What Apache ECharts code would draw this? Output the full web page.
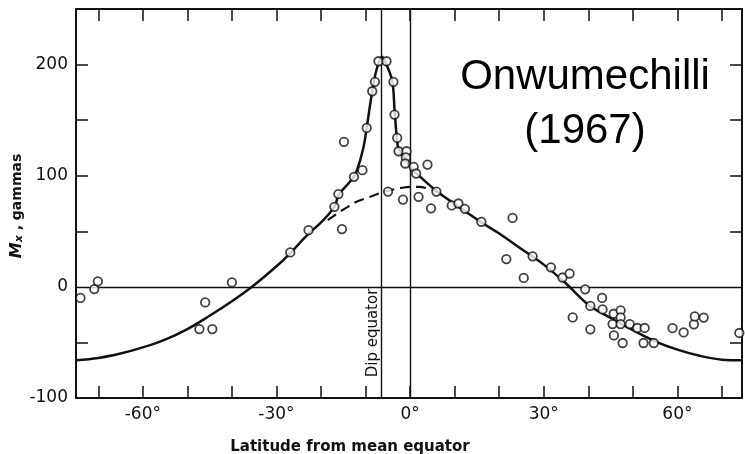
<!DOCTYPE html>
<html>
<head>
<meta charset="utf-8">
<script src="https://cdn.jsdelivr.net/npm/echarts@6/dist/echarts.min.js"></script>
<style>html,body{margin:0;padding:0;background:#fff;}#c{width:745px;height:454px;}</style>
</head>
<body>
<div id="c"></div>
<script>
// Observed data points (latitude deg, Mx gammas)
const observed = [
  [-74.0, -10], [-70.9, -2], [-70.1, 5], [-47.3, -38], [-46.0, -14], [-44.4, -38], [-40.0, 4],
  [-26.9, 31], [-22.8, 51], [-15.3, 52], [-17.0, 72], [-16.1, 83.5], [-14.85, 130.5], [-12.6, 99],
  [-10.7, 105], [-9.75, 143], [-8.5, 176], [-7.9, 184.5], [-7.1, 203], [-5.3, 203], [-3.75, 184.5],
  [-3.5, 155], [-2.9, 134], [-2.6, 122], [-0.8, 122], [-0.95, 116.5], [-1.1, 111], [0.8, 108],
  [1.35, 102], [3.9, 110], [-4.95, 85.7], [-1.6, 78.5], [1.9, 81], [5.9, 85.7], [4.7, 70.7],
  [9.35, 73.3], [10.85, 75], [12.3, 70.2], [16.0, 58.5], [23.0, 62], [21.6, 25], [25.5, 8],
  [27.5, 27.5], [31.6, 17.6], [34.2, 8.4], [35.8, 12], [39.3, -2.2], [36.5, -27.5], [40.45, -17.2],
  [40.45, -38.2], [43.1, -10], [43.2, -20.3], [45.7, -24.2], [47.25, -21.2], [47.25, -27.5],
  [45.45, -33.5], [47.25, -33.5], [45.75, -43.7], [47.7, -50.5], [49.3, -33.5], [51.0, -37],
  [52.65, -37], [52.4, -50.5], [54.7, -50.5], [58.9, -37.2], [61.4, -41], [63.7, -33.7],
  [63.9, -26.6], [65.9, -27.6], [73.9, -41.5]
];
// Fitted solid curve
const solidCurve = [
  [-75, -66], [-70, -64], [-65, -60], [-60, -54.5], [-55, -47.5], [-50, -38], [-45, -26], [-40, -13],
  [-35.5, 0], [-30, 18.5], [-27, 30], [-23, 47], [-20, 58], [-17, 72], [-16, 83], [-13, 97], [-12, 104],
  [-10.5, 125], [-9.75, 143], [-8.5, 176], [-7.5, 196], [-6.3, 207], [-5.3, 200], [-4, 185],
  [-3.5, 160], [-3, 135], [-2.5, 123], [-1, 115], [0, 108], [2, 100], [6, 86], [10, 74.5], [16, 58],
  [20, 48], [25, 34], [30, 20], [35, 3], [40, -16], [45, -28], [50, -39], [55, -49], [60, -56.5],
  [65, -62], [70, -65.5], [74.5, -66]
];
// Dashed curve (without electrojet)
const dashedCurve = [
  [-18.5, 60], [-16, 67], [-14, 72], [-11.8, 77], [-9, 81], [-7, 84], [-5, 86.5], [-2, 89],
  [0, 90], [2, 90], [4, 88.5], [6, 86]
];
const dipEquator = -6.4;
const meanEquator = 0;
const xTicks = [-70, -60, -50, -40, -30, -20, -10, 0, 10, 20, 30, 40, 50, 60, 70];
const xLabels = [-60, -30, 0, 30, 60];
const yTicks = [-50, 50, 100, 150, 200];
const yLabels = [-100, 0, 100, 200];

const ink = '#111';
const chart = echarts.init(document.getElementById('c'), null, {renderer: 'canvas'});
const fam = 'DejaVu Sans';
function xAx(pos, labels) {
  return {
    type: 'value', position: pos, min: -75, max: 74.5,
    axisLine: {show: true, onZero: false, lineStyle: {color: ink, width: 2}},
    axisTick: {show: true, inside: true, length: 12, customValues: xTicks, lineStyle: {color: ink, width: 1.5}},
    axisLabel: labels ? {show: true, customValues: xLabels, color: ink, fontSize: 17, fontFamily: fam, margin: 8,
      formatter: v => (v < 0 ? '-' + Math.abs(v) : String(v)) + '°'} : {show: false},
    splitLine: {show: false}
  };
}
function yAx(pos, labels) {
  return {
    type: 'value', position: pos, min: -100, max: 250,
    axisLine: {show: true, onZero: false, lineStyle: {color: ink, width: 2}},
    axisTick: {show: true, inside: true, length: 12, customValues: yTicks, lineStyle: {color: ink, width: 1.5}},
    axisLabel: labels ? {show: true, customValues: yLabels, color: ink, fontSize: 17, fontFamily: fam, margin: 8} : {show: false},
    splitLine: {show: false}
  };
}
chart.setOption({
  backgroundColor: '#fff',
  animation: false,
  grid: {left: 76, right: 3, top: 9, bottom: 56},
  xAxis: [xAx('bottom', true), xAx('top', false)],
  yAxis: [yAx('left', true), yAx('right', false)],
  series: [
    {
      type: 'line', data: solidCurve, smooth: 0.35, symbol: 'none', z: 3,
      lineStyle: {color: ink, width: 2.5},
      markLine: {
        silent: true, symbol: 'none', label: {show: false},
        lineStyle: {color: ink, width: 1.4, type: 'solid'},
        data: [{xAxis: dipEquator}, {xAxis: meanEquator}, {yAxis: 0}]
      }
    },
    {
      type: 'line', data: dashedCurve, smooth: 0.35, symbol: 'none', z: 3,
      lineStyle: {color: ink, width: 2.2, type: [10, 6]}
    },
    {
      type: 'scatter', data: observed, symbol: 'circle', symbolSize: 8.5, z: 5,
      itemStyle: {color: '#fff', borderColor: ink, borderWidth: 1.8}
    }
  ],
  graphic: [
    {type: 'text', x: 585, y: 77, z: 10, style: {text: 'Onwumechilli', fontFamily: 'Liberation Sans', fontSize: 42, fill: '#000', align: 'center', verticalAlign: 'middle'}},
    {type: 'text', x: 585, y: 131, z: 10, style: {text: '(1967)', fontFamily: 'Liberation Sans', fontSize: 42, fill: '#000', align: 'center', verticalAlign: 'middle'}},
    {type: 'text', x: 373, y: 333, rotation: Math.PI / 2, z: 10, style: {text: 'Dip equator', fontFamily: fam, fontSize: 15, fill: ink, align: 'center', verticalAlign: 'middle'}},
    {type: 'text', x: 350, y: 447, z: 10, style: {text: 'Latitude from mean equator', fontFamily: fam, fontWeight: 'bold', fontSize: 15, fill: ink, align: 'center', verticalAlign: 'middle'}},
    {type: 'text', x: 17, y: 206, rotation: Math.PI / 2, z: 10, style: {
      text: '{m|M}{s|x}{n| , gammas}', align: 'center', verticalAlign: 'middle', fill: ink,
      rich: {
        m: {fontFamily: fam, fontWeight: 'bold', fontStyle: 'italic', fontSize: 16, fill: ink},
        s: {fontFamily: fam, fontWeight: 'bold', fontStyle: 'italic', fontSize: 11, fill: ink, verticalAlign: 'bottom'},
        n: {fontFamily: fam, fontWeight: 'bold', fontSize: 14, fill: ink}
      }
    }}
  ]
});
</script>
</body>
</html>
